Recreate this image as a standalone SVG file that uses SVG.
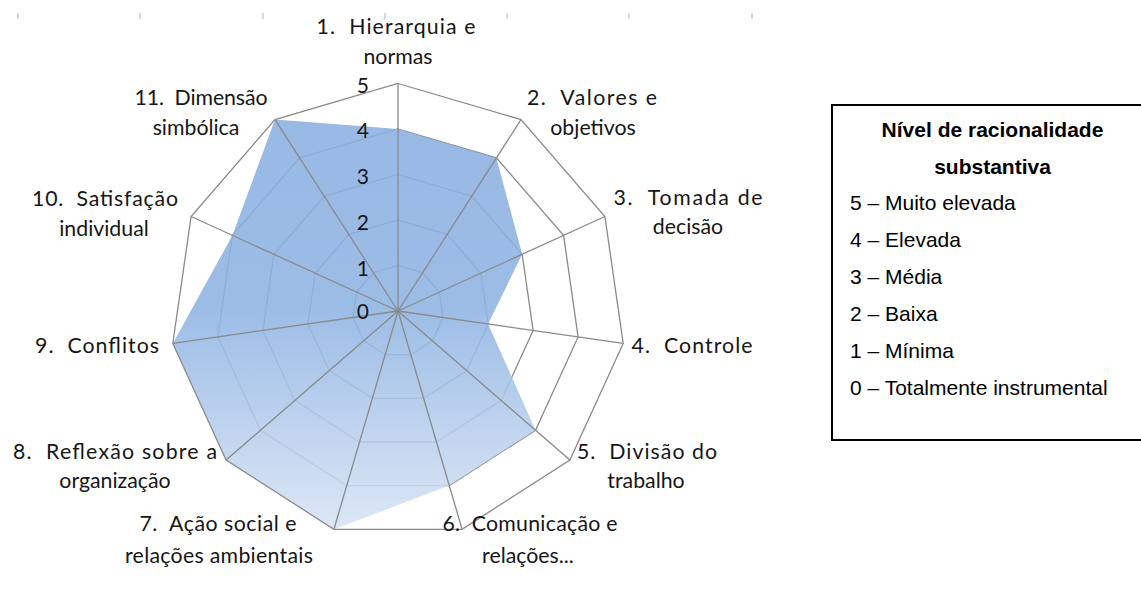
<svg xmlns="http://www.w3.org/2000/svg" width="1141" height="598" viewBox="0 0 1141 598">
<style>
.tick{stroke:#c9ced6;stroke-width:1.5}
.ring{fill:none;stroke:#8a8a8a;stroke-width:1.3;stroke-linejoin:miter}
.spoke{stroke:#8a8a8a;stroke-width:1.3}
.lbl{font-family:Lato,"Noto Sans",sans-serif;font-size:21.3px;fill:#161616;text-anchor:middle;white-space:pre}
.num{font-family:Lato,"Noto Sans",sans-serif;font-size:21px;fill:#161616;text-anchor:end}
.leg{font-family:"Liberation Sans",Arial,sans-serif;font-size:21px;fill:#000}
.legb{font-family:"Liberation Sans",Arial,sans-serif;font-size:21px;font-weight:bold;fill:#000;text-anchor:middle}
</style>
<defs>
<linearGradient id="fillg" gradientUnits="userSpaceOnUse" x1="0" y1="83" x2="0" y2="530">
<stop offset="0" stop-color="#89AFE0"/>
<stop offset="0.5" stop-color="#8EB3E2"/>
<stop offset="1" stop-color="#D8E4F4"/>
</linearGradient>
</defs>
<rect width="1141" height="598" fill="#fff"/>
<g id="ticks">
<line class="tick" x1="18" y1="13" x2="18" y2="19"/>
<line class="tick" x1="140" y1="13" x2="140" y2="19"/>
<line class="tick" x1="263" y1="13" x2="263" y2="19"/>
<line class="tick" x1="385" y1="13" x2="385" y2="19"/>
<line class="tick" x1="507" y1="13" x2="507" y2="19"/>
<line class="tick" x1="629" y1="13" x2="629" y2="19"/>
<line class="tick" x1="752" y1="13" x2="752" y2="19"/>
</g>
<g id="grid-inner">
<polygon class="ring" points="398,265.5 422.6,272.7 439.4,292.1 443,317.5 432.4,340.8 410.8,354.7 385.2,354.7 363.6,340.8 353,317.5 356.6,292.1 373.4,272.7"/>
<polygon class="ring" points="398,220 447.2,234.4 480.8,273.2 488.1,324 466.8,370.6 423.6,398.3 372.4,398.3 329.2,370.6 307.9,324 315.2,273.2 348.8,234.4"/>
<polygon class="ring" points="398,174.5 471.8,196.2 522.2,254.3 533.1,330.4 501.2,400.4 436.5,442 359.5,442 294.8,400.4 262.9,330.4 273.8,254.3 324.2,196.2"/>
<polygon class="ring" points="398,129 496.4,157.9 563.6,235.4 578.1,336.9 535.5,430.2 449.3,485.6 346.7,485.6 260.5,430.2 217.9,336.9 232.4,235.4 299.6,157.9"/>
</g>
<g id="series">
<polygon points="398,129 496.4,157.9 522.2,254.3 488.1,324 535.5,430.2 449.3,485.6 333.9,529.3 226.1,460 172.8,343.4 232.4,235.4 275,119.6" fill="url(#fillg)" fill-opacity="0.88"/>
</g>
<g id="connectors">
<line class="spoke" x1="398" y1="311" x2="398" y2="83.5"/>
<line class="spoke" x1="398" y1="311" x2="521" y2="119.6"/>
<line class="spoke" x1="398" y1="311" x2="604.9" y2="216.5"/>
<line class="spoke" x1="398" y1="311" x2="623.2" y2="343.4"/>
<line class="spoke" x1="398" y1="311" x2="569.9" y2="460"/>
<line class="spoke" x1="398" y1="311" x2="462.1" y2="529.3"/>
<line class="spoke" x1="398" y1="311" x2="333.9" y2="529.3"/>
<line class="spoke" x1="398" y1="311" x2="226.1" y2="460"/>
<line class="spoke" x1="398" y1="311" x2="172.8" y2="343.4"/>
<line class="spoke" x1="398" y1="311" x2="191.1" y2="216.5"/>
<line class="spoke" x1="398" y1="311" x2="275" y2="119.6"/>
<polygon class="ring" points="398,83.5 521,119.6 604.9,216.5 623.2,343.4 569.9,460 462.1,529.3 333.9,529.3 226.1,460 172.8,343.4 191.1,216.5 275,119.6"/>
</g>
<g id="axis-values">
<text class="num" x="369" y="93">5</text>
<text class="num" x="369" y="138">4</text>
<text class="num" x="369" y="184">3</text>
<text class="num" x="369" y="230">2</text>
<text class="num" x="369" y="276">1</text>
<text class="num" x="369" y="319">0</text>
</g>
<g id="label-1"><text class="lbl" x="396" y="34" textLength="159">1.  Hierarquia e</text><text class="lbl" x="398" y="64">normas</text></g>
<g id="label-2"><text class="lbl" x="592" y="105" textLength="130">2.  Valores e</text><text class="lbl" x="593" y="135">objetivos</text></g>
<g id="label-3"><text class="lbl" x="688" y="205" textLength="149">3.  Tomada de</text><text class="lbl" x="688" y="234">decisão</text></g>
<g id="label-4"><text class="lbl" x="692" y="353" textLength="121">4.  Controle</text></g>
<g id="label-5"><text class="lbl" x="647" y="459" textLength="140">5.  Divisão do</text><text class="lbl" x="646" y="488">trabalho</text></g>
<g id="label-6"><text class="lbl" x="530" y="531" textLength="175">6.  Comunicação e</text><text class="lbl" x="528" y="563">relações...</text></g>
<g id="label-7"><text class="lbl" x="218" y="531" textLength="157">7.  Ação social e</text><text class="lbl" x="219" y="563" textLength="188">relações ambientais</text></g>
<g id="label-8"><text class="lbl" x="115" y="459" textLength="204">8.  Reflexão sobre a</text><text class="lbl" x="115" y="488">organização</text></g>
<g id="label-9"><text class="lbl" x="97" y="353" textLength="124">9.  Conflitos</text></g>
<g id="label-10"><text class="lbl" x="105" y="206" textLength="146">10.  Satisfação</text><text class="lbl" x="104" y="236">individual</text></g>
<g id="label-11"><text class="lbl" x="201" y="105" textLength="133">11.  Dimensão</text><text class="lbl" x="196" y="135">simbólica</text></g>
<g id="legend">
<rect x="832" y="105" width="320" height="335" fill="#fff" stroke="#000" stroke-width="2"/>
<text class="legb" x="992.5" y="137">Nível de racionalidade</text>
<text class="legb" x="992.5" y="174">substantiva</text>
<text class="leg" x="850" y="210">5 – Muito elevada</text>
<text class="leg" x="850" y="247">4 – Elevada</text>
<text class="leg" x="850" y="284">3 – Média</text>
<text class="leg" x="850" y="321">2 – Baixa</text>
<text class="leg" x="850" y="358">1 – Mínima</text>
<text class="leg" x="850" y="395">0 – Totalmente instrumental</text>
</g>
</svg>
